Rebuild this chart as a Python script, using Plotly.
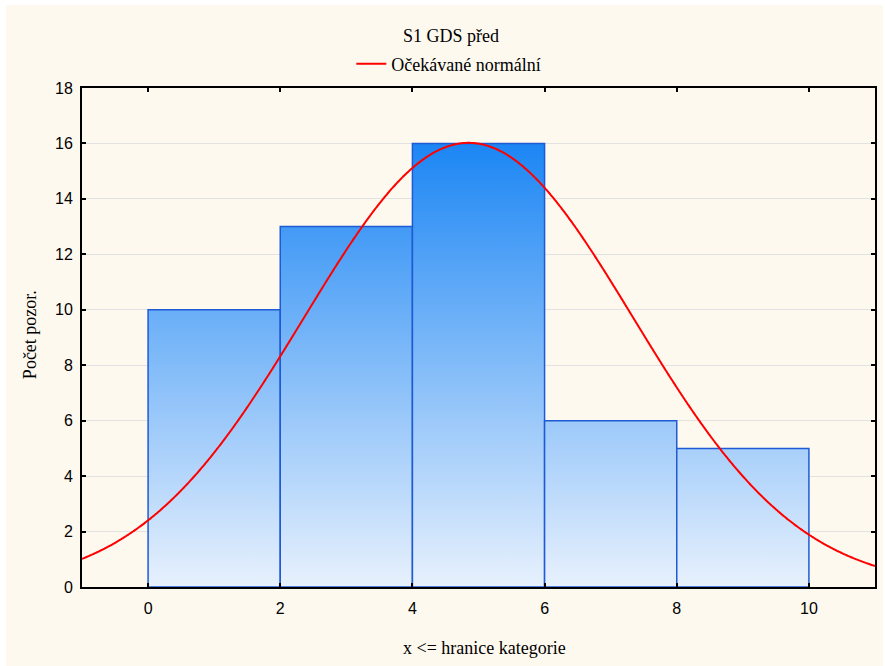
import numpy as np
import plotly.graph_objects as go

# Histogram of S1 GDS scores (upper bin limits, x <= boundary)
bin_edges = [0, 2, 4, 6, 8, 10]
counts = [10, 13, 16, 6, 5]

# Expected normal curve parameters
n_obs = 50
mean_val = 4.85
sd_val = 2.49
bin_width = 2

x_ticks = [0, 2, 4, 6, 8, 10]
y_ticks = [0, 2, 4, 6, 8, 10, 12, 14, 16, 18]

W, H = 885, 666
ML, MR, MT, MB = 82, 8, 88, 79
PW, PH = W - ML - MR, H - MT - MB


def px_x(p):
    return (p - ML) / PW


def px_y(p):
    return (H - MB - p) / PH


fig = go.Figure()

grad = dict(type="vertical",
            colorscale=[[0, "#E8F1FD"], [1, "#1C86F4"]],
            start=0, stop=16)

for i, c in enumerate(counts):
    l, r = bin_edges[i], bin_edges[i + 1]
    fig.add_trace(go.Scatter(
        x=[l, l, r, r, l], y=[0, c, c, 0, 0],
        mode="lines", fill="toself", fillgradient=grad,
        line=dict(color="#1F5AD6", width=1.5),
        showlegend=False, hoverinfo="skip",
    ))

xs = np.linspace(-1, 11, 600)
expected = n_obs * bin_width / (sd_val * np.sqrt(2 * np.pi)) * np.exp(-0.5 * ((xs - mean_val) / sd_val) ** 2)
fig.add_trace(go.Scatter(
    x=xs, y=expected, mode="lines",
    line=dict(color="#FF0000", width=2, shape="spline"),
    name="Očekávané normální",
))

serif = "Liberation Serif, Times New Roman, DejaVu Serif, serif"
sans = "Liberation Sans, Arial, sans-serif"

fig.update_layout(
    width=W, height=H,
    margin=dict(l=ML, r=MR, t=MT, b=MB),
    paper_bgcolor="white",
    plot_bgcolor="white",
    showlegend=True,
    legend=dict(orientation="h", x=px_x(352), xanchor="left",
                y=px_y(64), yanchor="middle",
                bgcolor="rgba(0,0,0,0)", itemwidth=30,
                font=dict(family=serif, size=18, color="black")),
    title=dict(text="S1 GDS před", x=451 / W, xref="container", xanchor="center",
               y=1 - 36 / H, yref="container", yanchor="middle",
               font=dict(family=serif, size=18, color="black")),
    font=dict(family=sans, size=16, color="black"),
    shapes=[dict(type="rect", xref="paper", yref="paper", layer="below",
                 x0=px_x(6), x1=px_x(885), y0=px_y(666), y1=px_y(5),
                 fillcolor="#FEF9EF", line=dict(width=0))],
    annotations=[
        dict(text="x <= hranice kategorie", xref="paper", yref="paper",
             x=px_x(486), y=px_y(648), xanchor="center", yanchor="middle",
             showarrow=False, font=dict(family=serif, size=18, color="black")),
        dict(text="Počet pozor.", xref="paper", yref="paper",
             x=px_x(30), y=px_y(335), xanchor="center", yanchor="middle",
             textangle=-90, showarrow=False,
             font=dict(family=serif, size=18, color="black")),
    ],
)

fig.update_xaxes(range=[-1, 11], tickvals=x_ticks, ticks="inside", ticklen=4,
                 tickcolor="black", tickwidth=1.5, ticklabelstandoff=6,
                 showline=True, linecolor="black", linewidth=2, mirror="ticks",
                 showgrid=False, zeroline=False,
                 tickfont=dict(family=sans, size=16, color="black"))
fig.update_yaxes(range=[0, 18], tickvals=y_ticks, ticks="inside", ticklen=4,
                 tickcolor="black", tickwidth=1.5, ticklabelstandoff=4,
                 showline=True, linecolor="black", linewidth=2, mirror="ticks",
                 showgrid=True, gridcolor="#E2E2E2", gridwidth=1, zeroline=False,
                 tickfont=dict(family=sans, size=16, color="black"))

fig.write_html("out.html")
